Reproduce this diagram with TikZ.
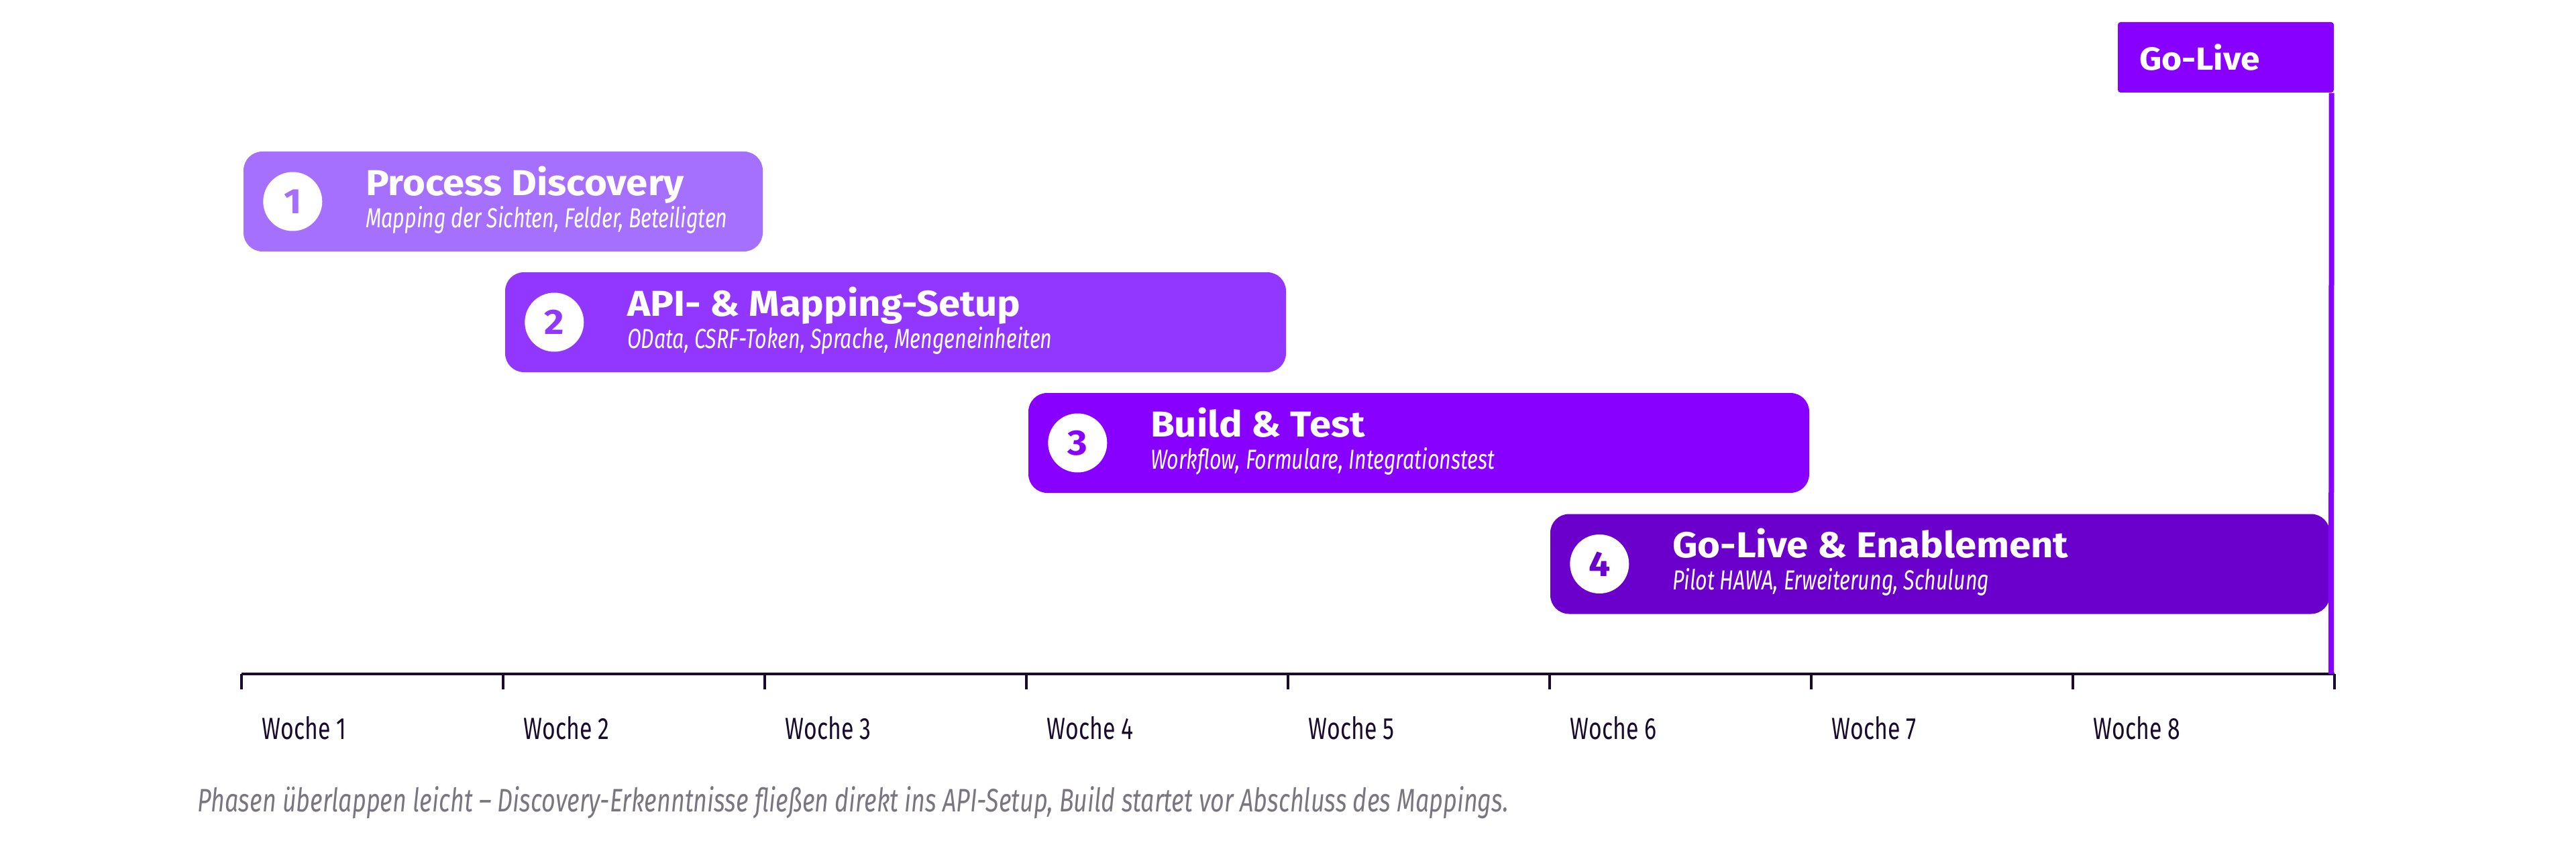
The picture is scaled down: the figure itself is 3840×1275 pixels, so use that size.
\documentclass[tikz,border=0pt]{standalone}
\usepackage{fontspec}
\setmainfont{Fira Sans}
\newfontfamily\schmal{Fira Sans}[FakeStretch=0.74]
\newfontfamily\titelschrift{Fira Sans}[FakeStretch=1.08]
\usetikzlibrary{calc}
\definecolor{phaseeins}{RGB}{166,112,255}
\definecolor{phasezwei}{RGB}{145,55,255}
\definecolor{phasedrei}{RGB}{136,0,255}
\definecolor{phasevier}{RGB}{107,0,204}
\definecolor{achsenfarbe}{RGB}{26,10,46}
\definecolor{notizgrau}{RGB}{122,118,128}

\begin{document}
\begin{tikzpicture}[x=0.1mm, y=-0.1mm,
    phasebox/.style={rectangle, rounded corners=2.8mm, minimum height=14.9mm, inner sep=0pt},
    nummer/.style={circle, fill=white, minimum size=8.8mm, inner sep=0pt, font=\titelschrift\fontsize{15}{18}\selectfont\bfseries},
    titel/.style={inner sep=0pt, text=white, font=\titelschrift\fontsize{15.3}{18}\selectfont\bfseries},
    untertitel/.style={inner sep=0pt, text=white, font=\schmal\fontsize{11.7}{14}\selectfont\itshape},
    woche/.style={inner sep=0pt, text=achsenfarbe, font=\schmal\fontsize{13}{16}\selectfont}]
    \useasboundingbox (0,0) rectangle (3840,1275);
    % Achse mit Wochen
    \coordinate (achse-start) at (360,1005);
    \coordinate (achse-ende) at (3480,1005);
    \draw[achsenfarbe, line width=0.35mm] (achse-start) -- (achse-ende);
    \foreach \i in {0,...,8}
        \draw[achsenfarbe, line width=0.4mm] (360+\i*390,1005) -- ++(0,23);
    \foreach \i in {1,...,8}
        \node[woche, anchor=base west] (woche\i) at (390+\i*390-390,1102) {Woche \i};
    % Go-Live Fahne
    \node[rectangle, rounded corners=0.4mm, fill=phasedrei, text=white, minimum height=10.5mm,
          text width=25.8mm, inner xsep=3.2mm, align=left,
          font=\titelschrift\fontsize{13.6}{16}\selectfont\bfseries] (golive) at (3318,85.5) {Go-Live};
    \coordinate (golive-fuss) at (3475,1005);
    % Phase 1
    \node[phasebox, fill=phaseeins, minimum width=77.4mm] (box1) at (750,300.5) {};
    \node[nummer, text=phaseeins] (nr1) at ($(box1.west)+(74,0)$) {1};
    \node[titel, anchor=base west] (titel1) at ($(box1.north west)+(182,66)$) {Process Discovery};
    \node[untertitel, anchor=base west] (info1) at ($(box1.north west)+(182,114)$) {Mapping der Sichten, Felder, Beteiligten};
    % Phase 2
    \node[phasebox, fill=phasezwei, minimum width=116.4mm] (box2) at (1335,480.5) {};
    \node[nummer, text=phasezwei] (nr2) at ($(box2.west)+(74,0)$) {2};
    \node[titel, anchor=base west] (titel2) at ($(box2.north west)+(182,66)$) {API- \& Mapping-Setup};
    \node[untertitel, anchor=base west] (info2) at ($(box2.north west)+(182,114)$) {OData, CSRF-Token, Sprache, Mengeneinheiten};
    % Phase 3
    \node[phasebox, fill=phasedrei, minimum width=116.4mm] (box3) at (2115,660.5) {};
    \node[nummer, text=phasedrei] (nr3) at ($(box3.west)+(74,0)$) {3};
    \node[titel, anchor=base west] (titel3) at ($(box3.north west)+(182,66)$) {Build \& Test};
    \node[untertitel, anchor=base west] (info3) at ($(box3.north west)+(182,114)$) {Workflow, Formulare, Integrationstest};
    % Phase 4
    \node[phasebox, fill=phasevier, minimum width=116.2mm] (box4) at (2892,841) {};
    \node[nummer, text=phasevier] (nr4) at ($(box4.west)+(74,0)$) {4};
    \node[titel, anchor=base west] (titel4) at ($(box4.north west)+(182,66)$) {Go-Live \& Enablement};
    \node[untertitel, anchor=base west] (info4) at ($(box4.north west)+(182,114)$) {Pilot HAWA, Erweiterung, Schulung};
    % Linie bis zur Achse
    \draw[phasedrei, line width=0.8mm] ([xshift=-0.4mm]golive.south east) -- (golive-fuss);
    \node[inner sep=0pt, anchor=base west, text=notizgrau, font=\schmal\fontsize{13.8}{16}\selectfont\itshape] (notiz) at (294,1210)
        {Phasen überlappen leicht – Discovery-Erkenntnisse fließen direkt ins API-Setup, Build startet vor Abschluss des Mappings.};
\end{tikzpicture}
\end{document}
